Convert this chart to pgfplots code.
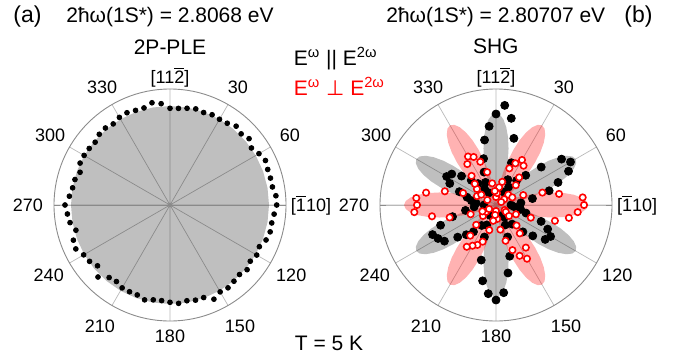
\documentclass[border=0pt]{standalone}
\usepackage{pgfplots}
\pgfplotsset{compat=1.18}
\usepgfplotslibrary{polar}
\usepackage{fontspec}
\setmainfont{Liberation Sans}
\newfontfamily\dejavu{DejaVu Sans}
\newcommand{\ob}[1]{\ensuremath{\overline{\mbox{#1}}}}
\newcommand{\polarlabels}{%
  \node[tl] at (axis cs:120,135.6) {330};
  \node[tl] at (axis cs:60,135.6) {30};
  \node[tl] at (axis cs:150,138.4) {300};
  \node[tl] at (axis cs:30,138.4) {60};
  \node[tl] at (axis cs:180,142) {270};
  \node[tl] at (axis cs:0,141) {[\ob{1}10]};
  \node[tl] at (axis cs:210,140) {240};
  \node[tl] at (axis cs:330,140) {120};
  \node[tl] at (axis cs:240,140) {210};
  \node[tl] at (axis cs:300,140) {150};
  \node[tl] at (axis cs:270,131) {180};
  \node[tl] at (axis cs:90,128) {[11\ob{2}]};
}
\pgfplotsset{
  mypolar/.style={
    width=116pt, height=116pt, scale only axis,
    anchor=center,
    ymin=0, ymax=116,
    ytick=\empty,
    xtick={0,30,...,330},
    xticklabels={},
    xmajorgrids=true,
    ymajorgrids=false,
    major x grid style={gray!55, line width=0.35pt},
    x axis line style={gray!90, line width=0.45pt},
    y axis line style={draw=none},
    xtick style={draw=none},
    x filter/.expression={90-x},
    extra x ticks={0,180},
    extra x tick labels={},
    extra x tick style={xtick style={draw=gray!90, line width=0.45pt}, major tick length=3pt, tick align=outside},
    clip=false,
  }
}
\tikzset{tl/.style={font=\fontsize{9}{10}\selectfont, inner sep=0pt, anchor=center}}
\begin{document}
\begin{tikzpicture}
\path[use as bounding box] (0,0) rectangle (341.5pt,180pt);
% ---------------- (a) 2P-PLE ----------------
\begin{polaraxis}[mypolar, at={(85pt,77.5pt)}]
\addplot[draw=none, fill=black, fill opacity=0.25] coordinates {
(0,99) (10,99) (20,99) (30,99) (40,99) (50,99) (60,99) (70,99) (80,99) (90,99) (100,99) (110,99)
(120,99) (130,99) (140,99) (150,99) (160,99) (170,99) (180,99) (190,99) (200,99) (210,99) (220,99) (230,99)
(240,99) (250,99) (260,99) (270,99) (280,99) (290,99) (300,99) (310,99) (320,99) (330,99) (340,99) (350,99) (360,99)};
\addplot[only marks, mark=*, mark size=1.2pt, black] coordinates {
(0,96.7) (5,97) (10,98.2) (15,99.5) (20,98.4) (25,99.6) (30,99) (35,99.8) (40,102.9) (45,100.6)
(50,103.2) (55,99.4) (60,102.7) (65,105.3) (70,104) (75,104) (80,104) (85,106.3) (90,106.7) (95,104.5)
(100,103.3) (105,103.7) (110,102.2) (115,98.6) (120,100.1) (125,98) (130,100.6) (135,98.3) (140,99.5) (145,101.1)
(150,100.3) (155,103.9) (160,98.5) (165,98.5) (170,97.2) (175,98.7) (180,97.3) (185,96) (190,96.3) (195,98.2)
(200,95.7) (205,95.7) (210,95.7) (215,93.4) (220,94.7) (225,101.8) (230,94.6) (235,98.2) (240,99.7) (245,103.9)
(250,102.8) (255,97.4) (260,101.5) (265,103) (270,105) (275,101) (280,98.9) (285,98.4) (290,95.7) (295,99.2)
(300,99.2) (305,98.6) (310,97.7) (315,100) (320,100.5) (325,99) (330,101.2) (335,101.8) (340,100.7) (345,100.5)
(350,103.8) (355,101.7)};
\polarlabels
\end{polaraxis}
% ---------------- (b) SHG ----------------
\begin{polaraxis}[mypolar, at={(248pt,77.5pt)}]
\addplot[draw=none, fill=black, fill opacity=0.25] coordinates {
(0,92) (2.5,90.4) (5,85.8) (7.5,78.5) (10,69) (12.5,57.9) (15,46) (17.5,34.1) (20,23) (22.5,13.5) (25,6.2) (27.5,1.6) (30,0) (32.5,1.6) (35,6.2) (37.5,13.5) (40,23) (42.5,34.1) (45,46) (47.5,57.9) (50,69) (52.5,78.5) (55,85.8) (57.5,90.4)
(60,92) (62.5,90.4) (65,85.8) (67.5,78.5) (70,69) (72.5,57.9) (75,46) (77.5,34.1) (80,23) (82.5,13.5) (85,6.2) (87.5,1.6) (90,0) (92.5,1.6) (95,6.2) (97.5,13.5) (100,23) (102.5,34.1) (105,46) (107.5,57.9) (110,69) (112.5,78.5) (115,85.8) (117.5,90.4)
(120,92) (122.5,90.4) (125,85.8) (127.5,78.5) (130,69) (132.5,57.9) (135,46) (137.5,34.1) (140,23) (142.5,13.5) (145,6.2) (147.5,1.6) (150,0) (152.5,1.6) (155,6.2) (157.5,13.5) (160,23) (162.5,34.1) (165,46) (167.5,57.9) (170,69) (172.5,78.5) (175,85.8) (177.5,90.4)
(180,92) (182.5,90.4) (185,85.8) (187.5,78.5) (190,69) (192.5,57.9) (195,46) (197.5,34.1) (200,23) (202.5,13.5) (205,6.2) (207.5,1.6) (210,0) (212.5,1.6) (215,6.2) (217.5,13.5) (220,23) (222.5,34.1) (225,46) (227.5,57.9) (230,69) (232.5,78.5) (235,85.8) (237.5,90.4)
(240,92) (242.5,90.4) (245,85.8) (247.5,78.5) (250,69) (252.5,57.9) (255,46) (257.5,34.1) (260,23) (262.5,13.5) (265,6.2) (267.5,1.6) (270,0) (272.5,1.6) (275,6.2) (277.5,13.5) (280,23) (282.5,34.1) (285,46) (287.5,57.9) (290,69) (292.5,78.5) (295,85.8) (297.5,90.4)
(300,92) (302.5,90.4) (305,85.8) (307.5,78.5) (310,69) (312.5,57.9) (315,46) (317.5,34.1) (320,23) (322.5,13.5) (325,6.2) (327.5,1.6) (330,0) (332.5,1.6) (335,6.2) (337.5,13.5) (340,23) (342.5,34.1) (345,46) (347.5,57.9) (350,69) (352.5,78.5) (355,85.8) (357.5,90.4) (360,92)};
\addplot[draw=none, fill=red, fill opacity=0.3] coordinates {
(0,0) (2.5,1.6) (5,6.2) (7.5,13.5) (10,23) (12.5,34.1) (15,46) (17.5,57.9) (20,69) (22.5,78.5) (25,85.8) (27.5,90.4) (30,92) (32.5,90.4) (35,85.8) (37.5,78.5) (40,69) (42.5,57.9) (45,46) (47.5,34.1) (50,23) (52.5,13.5) (55,6.2) (57.5,1.6)
(60,0) (62.5,1.6) (65,6.2) (67.5,13.5) (70,23) (72.5,34.1) (75,46) (77.5,57.9) (80,69) (82.5,78.5) (85,85.8) (87.5,90.4) (90,92) (92.5,90.4) (95,85.8) (97.5,78.5) (100,69) (102.5,57.9) (105,46) (107.5,34.1) (110,23) (112.5,13.5) (115,6.2) (117.5,1.6)
(120,0) (122.5,1.6) (125,6.2) (127.5,13.5) (130,23) (132.5,34.1) (135,46) (137.5,57.9) (140,69) (142.5,78.5) (145,85.8) (147.5,90.4) (150,92) (152.5,90.4) (155,85.8) (157.5,78.5) (160,69) (162.5,57.9) (165,46) (167.5,34.1) (170,23) (172.5,13.5) (175,6.2) (177.5,1.6)
(180,0) (182.5,1.6) (185,6.2) (187.5,13.5) (190,23) (192.5,34.1) (195,46) (197.5,57.9) (200,69) (202.5,78.5) (205,85.8) (207.5,90.4) (210,92) (212.5,90.4) (215,85.8) (217.5,78.5) (220,69) (222.5,57.9) (225,46) (227.5,34.1) (230,23) (232.5,13.5) (235,6.2) (237.5,1.6)
(240,0) (242.5,1.6) (245,6.2) (247.5,13.5) (250,23) (252.5,34.1) (255,46) (257.5,57.9) (260,69) (262.5,78.5) (265,85.8) (267.5,90.4) (270,92) (272.5,90.4) (275,85.8) (277.5,78.5) (280,69) (282.5,57.9) (285,46) (287.5,34.1) (290,23) (292.5,13.5) (295,6.2) (297.5,1.6)
(300,0) (302.5,1.6) (305,6.2) (307.5,13.5) (310,23) (312.5,34.1) (315,46) (317.5,57.9) (320,69) (322.5,78.5) (325,85.8) (327.5,90.4) (330,92) (332.5,90.4) (335,85.8) (337.5,78.5) (340,69) (342.5,57.9) (345,46) (347.5,34.1) (350,23) (352.5,13.5) (355,6.2) (357.5,1.6) (360,0)};
\addplot[only marks, mark=*, mark size=2pt, black] coordinates {
(0,91) (5,100) (10,88) (15,69) (20,45) (25,28) (30,15) (35,22) (40,32) (45,42) (50,59) (55,80)
(60,86) (65,80) (70,66) (75,55) (80,37) (85,25) (90,15) (95,18) (100,25) (105,31) (110,48) (115,57)
(120,63) (125,60) (130,48) (135,38) (140,25) (145,15) (150,12) (155,22) (160,34) (165,53) (170,69) (175,88)
(180,95) (185,89) (190,77) (195,57) (200,34) (205,22) (210,12) (215,25) (220,35) (225,42) (230,50) (235,63)
(240,67) (245,70) (250,59) (255,45) (260,31) (265,22) (270,12) (275,20) (280,25) (285,30) (290,39) (295,51)
(300,57) (305,54) (310,45) (315,35) (320,28) (325,20) (330,14) (335,25) (340,35) (345,48) (350,66) (355,79)};
\addplot[only marks, mark=*, mark size=1.6pt, mark options={fill=white, draw=red, line width=0.8pt}] coordinates {
(0,8) (5,12) (10,18) (15,24) (20,39) (25,46) (30,52) (35,48) (40,36) (45,28) (50,16) (55,10)
(60,6) (65,18) (70,29) (75,48) (80,64) (85,87) (90,88) (95,82) (100,74) (105,61) (110,37) (115,22)
(120,10) (125,12) (130,17) (135,29) (140,37) (145,52) (150,62) (155,56) (160,48) (165,37) (170,25) (175,14)
(180,6) (185,10) (190,16) (195,26) (200,39) (205,44) (210,47) (215,51) (220,40) (225,28) (230,17) (235,12)
(240,8) (245,15) (250,27) (255,48) (260,65) (265,82) (270,79) (275,80) (280,71) (285,53) (290,35) (295,21)
(300,10) (305,18) (310,25) (315,30) (320,38) (325,50) (330,56) (335,53) (340,46) (345,34) (350,22) (355,14)};
\polarlabels
\end{polaraxis}
% ---------------- texts ----------------
\node[font=\fontsize{11.5}{13}\selectfont] at (13.75pt,171.7pt) {(a)};
\node[font=\fontsize{10.5}{12}\selectfont] at (85pt,171.7pt) {2ħω(1S*) = 2.8068 eV};
\node[font=\fontsize{10.5}{12}\selectfont] at (85pt,156.2pt) {2P-PLE};
\node[font=\fontsize{10.5}{12}\selectfont] at (247.9pt,171.7pt) {2ħω(1S*) = 2.80707 eV};
\node[font=\fontsize{11.5}{13}\selectfont] at (319.2pt,171.7pt) {(b)};
\node[font=\fontsize{10.5}{12}\selectfont] at (247.9pt,156.7pt) {SHG};
\node[font=\fontsize{10.5}{12}\selectfont, anchor=west, inner sep=0pt] at (146.7pt,150.8pt) {E\textsuperscript{ω} || E\textsuperscript{2ω}};
\node[font=\fontsize{10.5}{12}\selectfont, anchor=west, inner sep=0pt, text=red] at (146.7pt,136.7pt) {E\textsuperscript{ω} {\dejavu ⊥} E\textsuperscript{2ω}};
\node[font=\fontsize{10.5}{12}\selectfont] at (164.5pt,8.5pt) {T = 5 K};
\end{tikzpicture}
\end{document}
